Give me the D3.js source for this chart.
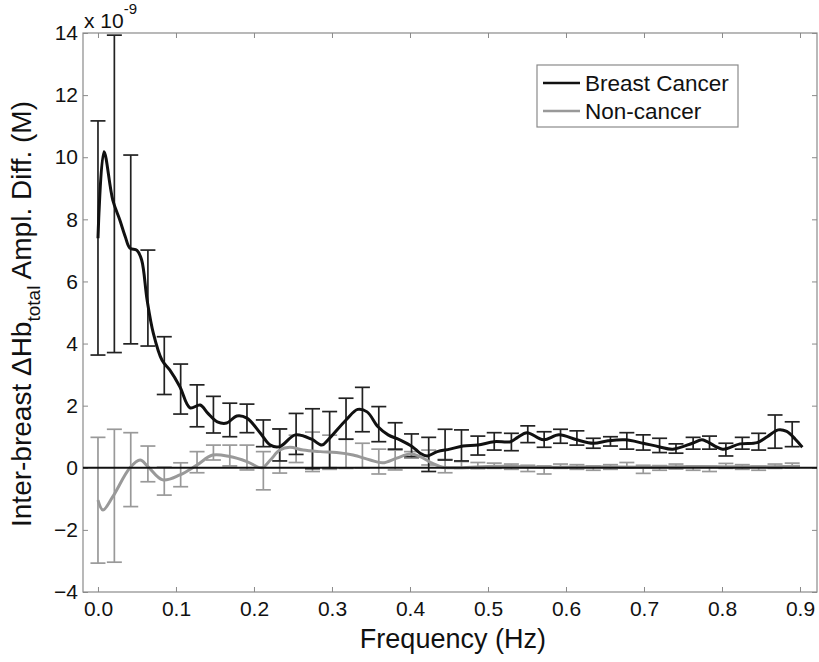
<!DOCTYPE html>
<html>
<head>
<meta charset="utf-8">
<script src="https://cdn.jsdelivr.net/npm/d3@7"></script>
<style>
  body { margin: 0; background: #fff; }
  text { font-family: "Liberation Sans", Arial, sans-serif; fill: #111; }
</style>
</head>
<body>
<div id="chart"></div>
<script>
// error bar sample frequencies (Hz)
const barFreq = [0, 0.021, 0.042, 0.064, 0.085, 0.106, 0.127, 0.148, 0.169, 0.191,
  0.212, 0.233, 0.254, 0.275, 0.297, 0.318, 0.339, 0.36, 0.381, 0.402,
  0.424, 0.445, 0.466, 0.487, 0.508, 0.53, 0.551, 0.572, 0.593, 0.614,
  0.635, 0.657, 0.678, 0.699, 0.72, 0.741, 0.763, 0.784, 0.805, 0.826,
  0.847, 0.868, 0.89];

// error bar limits, units of 1e-9 M
const cancerHi = [11.17, 13.93, 10.07, 7.01, 4.22, 3.34, 2.67, 2.3, 2.08, 2.05,
  1.54, 1.25, 1.75, 1.9, 1.81, 2.24, 2.59, 1.97, 1.45, 1.09,
  0.98, 1.24, 1.22, 1.02, 1.13, 1.11, 1.35, 1.16, 1.24, 1.19,
  0.95, 1.0, 1.13, 1.06, 0.95, 0.77, 0.98, 1.02, 0.79, 0.98,
  1.11, 1.7, 1.48];
const cancerLo = [3.63, 3.71, 3.99, 3.92, 2.36, 1.73, 1.32, 1.12, 1.0, 1.13,
  0.68, 0.22, 0.43, -0.03, 0.0, 0.92, 1.16, 0.84, 0.6, 0.36,
  -0.12, 0.25, 0.22, 0.41, 0.57, 0.55, 0.81, 0.66, 0.79, 0.73,
  0.63, 0.7, 0.6, 0.57, 0.49, 0.47, 0.6, 0.6, 0.38, 0.6,
  0.57, 0.63, 0.68];
const normalHi = [0.98, 1.24, 1.13, 0.7, 0.02, 0.16, 0.52, 0.73, 0.73, 0.73,
  0.52, 1.25, 1.05, 1.15, 1.05, 0.92, 0.79, 0.6, 0.57, 0.52,
  0.57, 0.27, 0.2, 0.17, 0.15, 0.12, 0.08, 0.06, 0.12, 0.1,
  0.06, 0.1, 0.17, 0.08, 0.07, 0.12, 0.06, 0.05, 0.14, 0.1,
  0.05, 0.12, 0.15];
const normalLo = [-3.07, -3.04, -1.25, -0.45, -0.88, -0.61, -0.16, 0.25, 0.06, -0.07,
  -0.71, -0.17, 0.17, -0.12, -0.05, -0.02, 0.0, -0.2, -0.07, 0.31,
  0.09, -0.16, -0.02, -0.03, -0.02, -0.05, -0.12, -0.2, -0.02, -0.05,
  -0.08, -0.05, 0.0, -0.18, -0.08, -0.04, -0.08, -0.12, -0.02, -0.05,
  -0.08, -0.02, 0.0];

// smoothed mean curves [Hz, 1e-9 M]
const cancerCurve = [[0, 7.39], [0.0077, 10.18], [0.019, 8.62], [0.028, 7.98], [0.035, 7.44],
  [0.041, 7.07], [0.05, 7.0], [0.056, 6.69], [0.063, 5.4], [0.071, 4.33],
  [0.082, 3.47], [0.092, 3.15], [0.105, 2.61], [0.118, 1.93], [0.131, 2.02],
  [0.141, 1.75], [0.153, 1.48], [0.165, 1.44], [0.178, 1.67], [0.191, 1.6],
  [0.208, 1.12], [0.221, 0.73], [0.233, 0.68], [0.253, 1.06], [0.274, 0.92],
  [0.287, 0.73], [0.295, 0.9], [0.318, 1.54], [0.333, 1.88], [0.345, 1.8],
  [0.359, 1.32], [0.372, 1.06], [0.387, 0.9], [0.403, 0.68], [0.413, 0.47],
  [0.422, 0.38], [0.435, 0.52], [0.451, 0.6], [0.468, 0.7], [0.487, 0.73],
  [0.508, 0.84], [0.529, 0.84], [0.538, 0.98], [0.55, 1.13], [0.571, 0.9],
  [0.591, 1.06], [0.614, 0.9], [0.635, 0.79], [0.654, 0.87], [0.676, 0.9],
  [0.699, 0.79], [0.719, 0.68], [0.737, 0.6], [0.762, 0.79], [0.774, 0.9],
  [0.781, 0.84], [0.801, 0.6], [0.823, 0.77], [0.845, 0.81], [0.858, 1.0],
  [0.872, 1.22], [0.883, 1.17], [0.894, 0.92], [0.903, 0.66]];
const normalCurve = [[0, -1.04], [0.0064, -1.36], [0.019, -0.93], [0.041, 0.0], [0.054, 0.25],
  [0.064, 0.04], [0.083, -0.39], [0.105, -0.23], [0.127, 0.09], [0.147, 0.41],
  [0.169, 0.36], [0.191, 0.2], [0.21, 0.0], [0.221, 0.25], [0.233, 0.57],
  [0.246, 0.66], [0.263, 0.57], [0.285, 0.52], [0.306, 0.49], [0.327, 0.41],
  [0.349, 0.25], [0.365, 0.16], [0.383, 0.31], [0.4, 0.44], [0.413, 0.36],
  [0.429, 0.14], [0.442, 0.02], [0.464, 0.0], [0.51, 0.05], [0.575, 0.02],
  [0.64, 0.03], [0.705, 0.02], [0.77, 0.04], [0.835, 0.03], [0.9, 0.05]];

const xTicks = [0, 0.1, 0.2, 0.3, 0.4, 0.5, 0.6, 0.7, 0.8, 0.9];
const yTicks = [-4, -2, 0, 2, 4, 6, 8, 10, 12, 14];

const margin = { top: 33, right: 2, bottom: 70, left: 83 };
const width = 819;
const height = 662;
const w = width - margin.left - margin.right;
const h = height - margin.top - margin.bottom;

const axisGray = '#8a8a8a';
const black = '#111';
const gray = '#999';

const svg = d3.select('#chart')
  .append('svg')
  .attr('width', width)
  .attr('height', height);

const g = svg.append('g')
  .attr('transform', `translate(${margin.left}, ${margin.top})`);

const x = d3.scaleLinear()
  .domain([-0.0192, 0.9218])
  .range([0, w]);

const y = d3.scaleLinear()
  .domain([-4, 14])
  .range([h, 0]);

// frame with inward ticks on all four sides
const axes = [
  { ax: d3.axisBottom(x).tickValues(xTicks).tickSize(-5), at: `translate(0, ${h})`, labels: true },
  { ax: d3.axisTop(x).tickValues(xTicks).tickSize(-5), at: 'translate(0, 0)', labels: false },
  { ax: d3.axisLeft(y).tickValues(yTicks).tickSize(-5), at: 'translate(0, 0)', labels: true },
  { ax: d3.axisRight(y).tickValues(yTicks).tickSize(-5), at: `translate(${w}, 0)`, labels: false },
];

axes.forEach((a, i) => {
  const ag = g.append('g')
    .attr('transform', a.at)
    .call(a.ax.tickSizeOuter(0));
  ag.select('.domain').remove();
  ag.selectAll('line').attr('stroke', axisGray);
  if (!a.labels) {
    ag.selectAll('text').remove();
  } else {
    ag.selectAll('text')
      .attr('font-size', 21)
      .attr('fill', '#111')
      .style('font-family', '"Liberation Sans", Arial, sans-serif');
    if (i === 0) ag.selectAll('text').attr('y', 9);
    if (i === 2) ag.selectAll('text').attr('x', -5);
  }
});

g.append('rect')
  .attr('x', 0)
  .attr('y', 0)
  .attr('width', w)
  .attr('height', h)
  .attr('fill', 'none')
  .attr('stroke', axisGray)
  .attr('stroke-width', 1.2);

// exponent label
const expo = g.append('text')
  .attr('x', 1)
  .attr('y', -5)
  .attr('font-size', 21);
expo.append('tspan').text('x 10');
expo.append('tspan').attr('font-size', 15).attr('dy', -14).text('-9');

const line = d3.line()
  .x(d => x(d[0]))
  .y(d => y(d[1]))
  .curve(d3.curveCatmullRom.alpha(0.5));

function errorBars(hi, lo, color, cls) {
  const cap = 7.5;
  const eb = g.append('g').attr('class', cls)
    .attr('stroke', color)
    .attr('stroke-width', 1.7)
    .attr('fill', 'none');
  const bars = eb.selectAll('g')
    .data(barFreq.map((f, i) => ({ f, hi: hi[i], lo: lo[i] })))
    .join('g');
  bars.append('line')
    .attr('x1', d => x(d.f)).attr('x2', d => x(d.f))
    .attr('y1', d => y(d.hi)).attr('y2', d => y(d.lo));
  bars.append('line')
    .attr('x1', d => x(d.f) - cap).attr('x2', d => x(d.f) + cap)
    .attr('y1', d => y(d.hi)).attr('y2', d => y(d.hi));
  bars.append('line')
    .attr('x1', d => x(d.f) - cap).attr('x2', d => x(d.f) + cap)
    .attr('y1', d => y(d.lo)).attr('y2', d => y(d.lo));
}

errorBars(normalHi, normalLo, gray, 'normalBars');
errorBars(cancerHi, cancerLo, '#222', 'cancerBars');

g.append('path')
  .datum(normalCurve)
  .attr('fill', 'none')
  .attr('stroke', gray)
  .attr('stroke-width', 3)
  .attr('stroke-linejoin', 'round')
  .attr('d', line);

// zero reference line
g.append('line')
  .attr('x1', 0)
  .attr('x2', w)
  .attr('y1', y(0))
  .attr('y2', y(0))
  .attr('stroke', black)
  .attr('stroke-width', 2);

g.append('path')
  .datum(cancerCurve)
  .attr('fill', 'none')
  .attr('stroke', black)
  .attr('stroke-width', 3)
  .attr('stroke-linejoin', 'round')
  .attr('d', line);

// legend
const legend = svg.append('g').attr('transform', 'translate(537, 65)');
legend.append('rect')
  .attr('width', 201)
  .attr('height', 62)
  .attr('fill', '#fff')
  .attr('stroke', axisGray)
  .attr('stroke-width', 1.2);
[['Breast Cancer', black], ['Non-cancer', gray]].forEach((d, i) => {
  const ly = 18 + i * 28;
  legend.append('line')
    .attr('x1', 6).attr('x2', 43)
    .attr('y1', ly).attr('y2', ly)
    .attr('stroke', d[1])
    .attr('stroke-width', 2.5);
  legend.append('text')
    .attr('x', 48)
    .attr('y', ly + 8)
    .attr('font-size', 22.5)
    .text(d[0]);
});

// axis titles
svg.append('text')
  .attr('x', margin.left + x(0.455))
  .attr('y', 648)
  .attr('text-anchor', 'middle')
  .attr('font-size', 27)
  .text('Frequency (Hz)');

const yl = svg.append('text')
  .attr('transform', 'translate(31, 314) rotate(-90)')
  .attr('text-anchor', 'middle')
  .attr('font-size', 28);
yl.append('tspan').text('Inter-breast \u0394Hb');
yl.append('tspan').attr('font-size', 19).attr('dy', 9).text('total');
yl.append('tspan').attr('dy', -9).text(' Ampl. Diff. (M)');
</script>
</body>
</html>
